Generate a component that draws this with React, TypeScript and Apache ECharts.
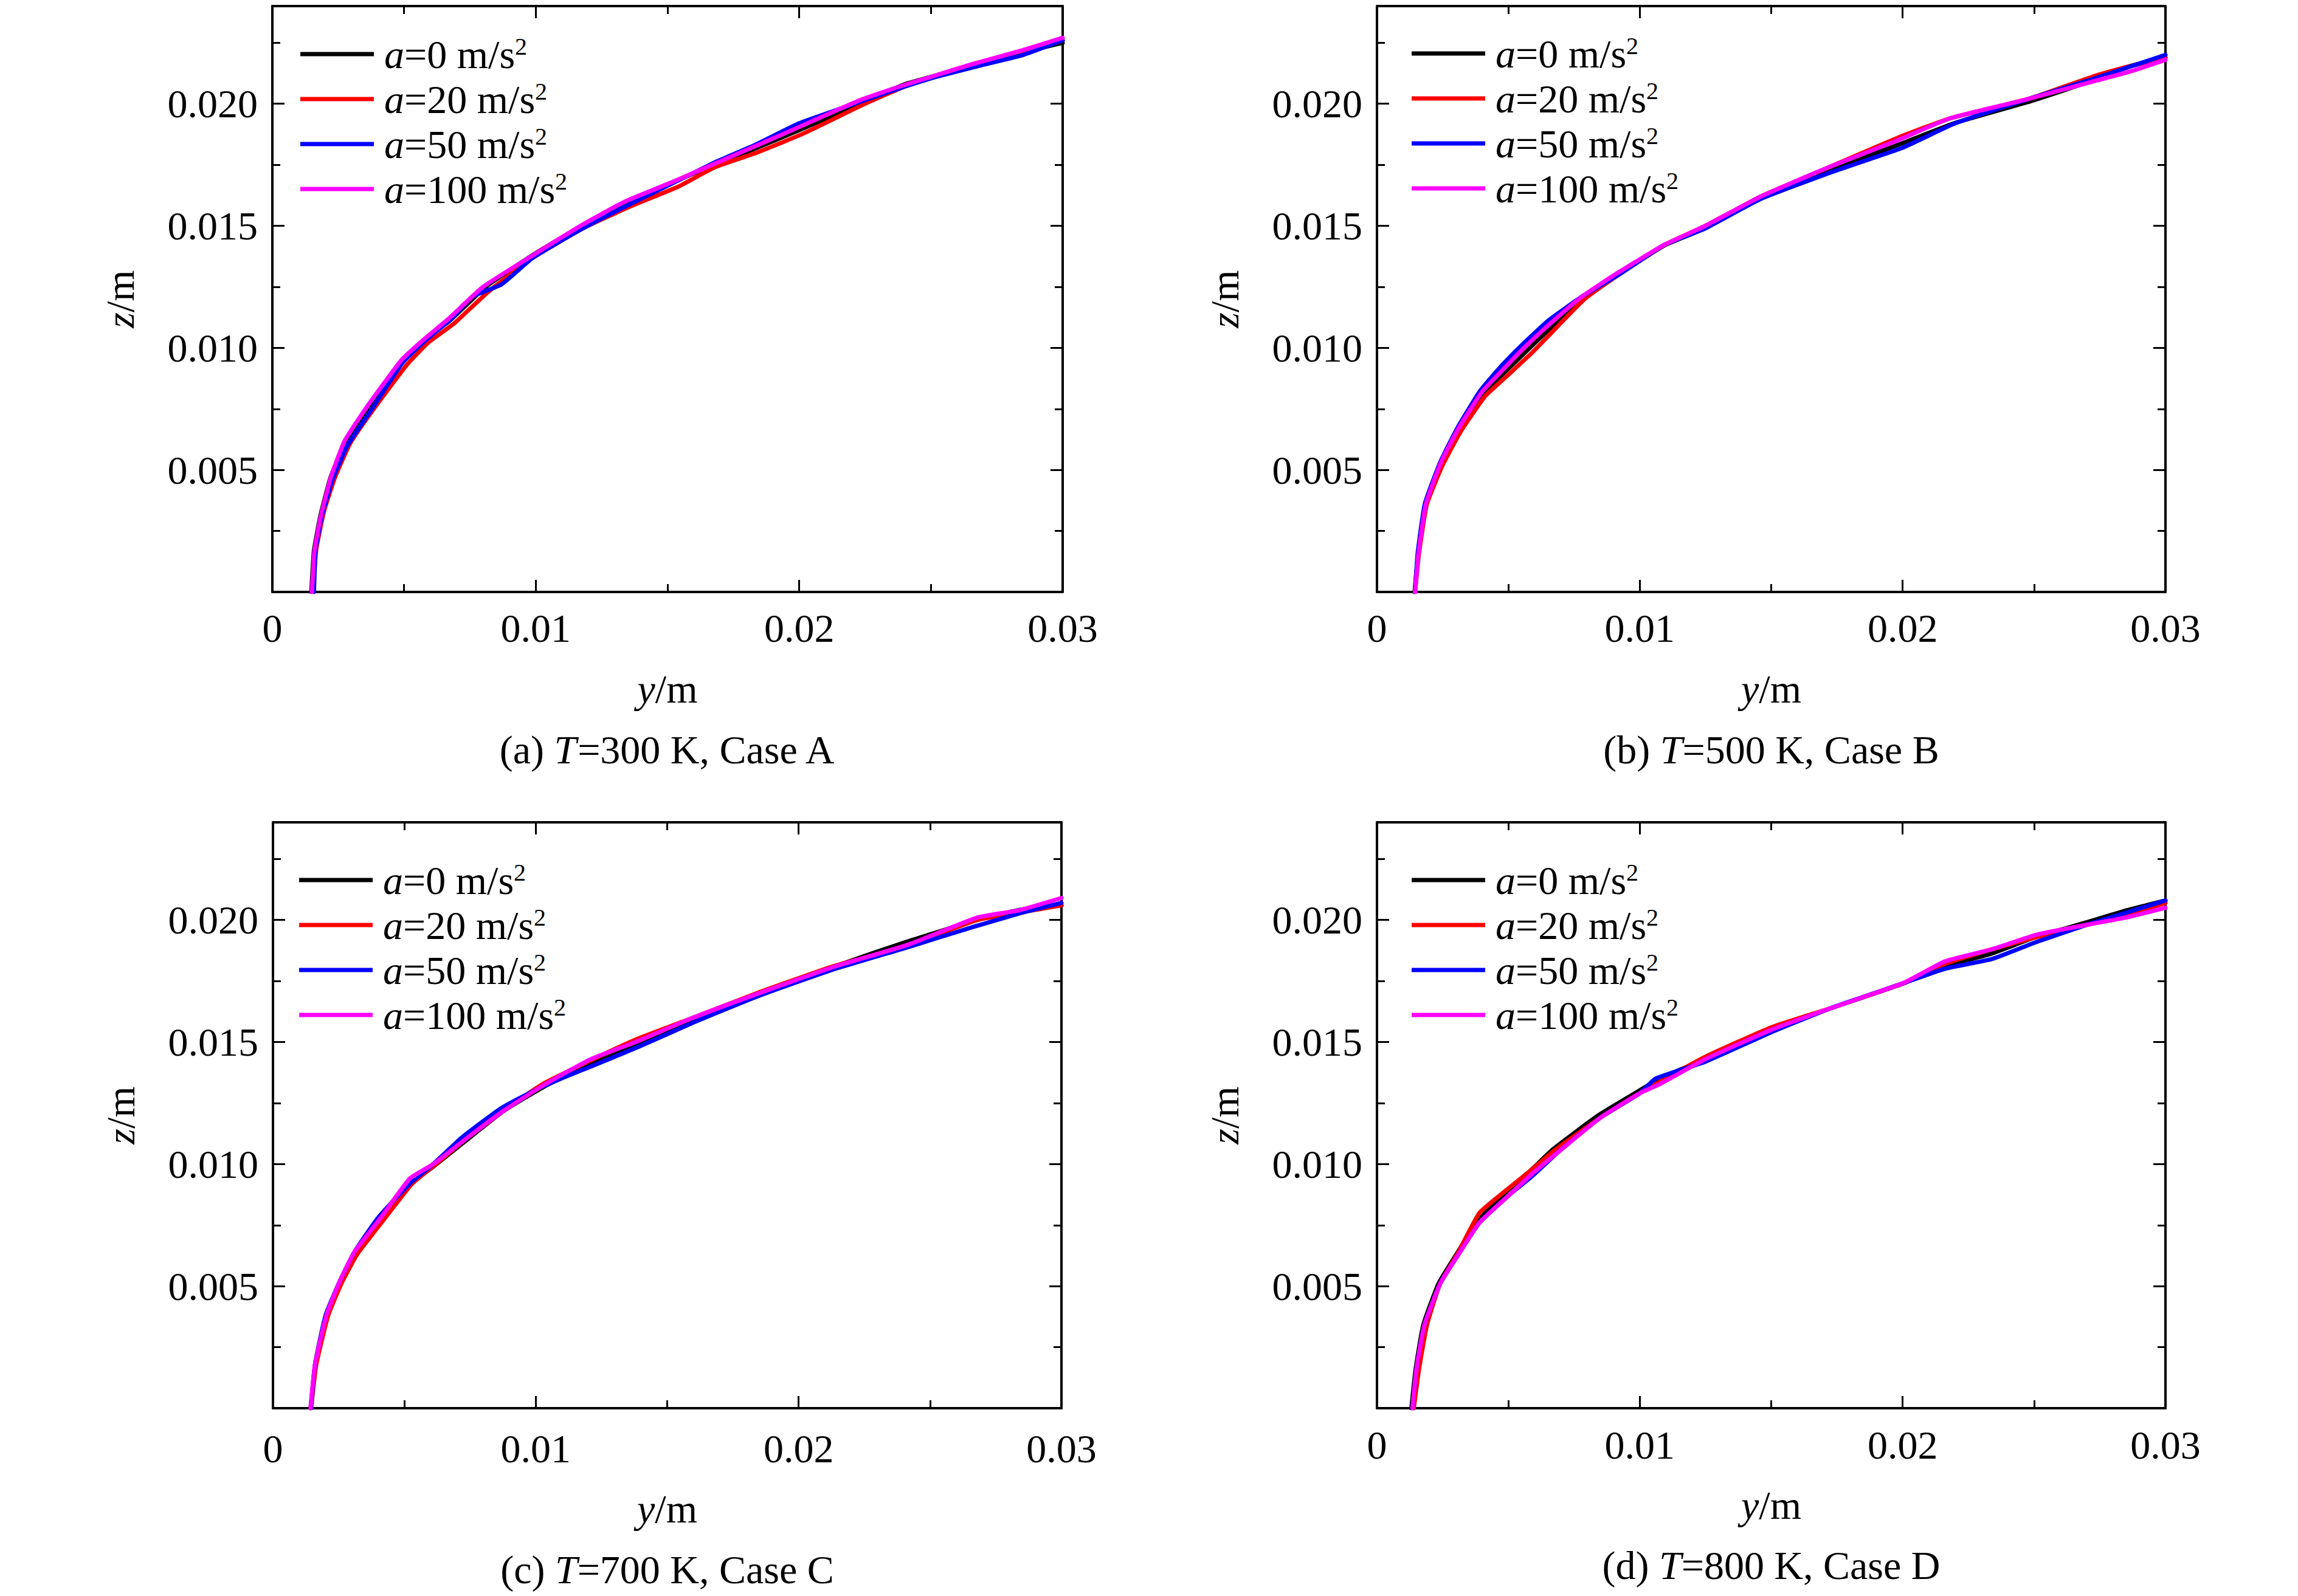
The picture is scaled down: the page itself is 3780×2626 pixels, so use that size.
import React, { useEffect, useRef } from 'react';
import * as echarts from 'echarts';

const FONT = '"Liberation Serif", "Times New Roman", serif';

// ---- data: [y (m), z (m)] pairs ----
const ACCEL = ['0', '20', '50', '100'];
const COLORS = ['#000000', '#ff0000', '#0000ff', '#ff00ff'];
const LETTERS = ['a', 'b', 'c', 'd'];
const TEMPS = [300, 500, 700, 800];
const CASES = ['A', 'B', 'C', 'D'];
const X_LABELS = [0, 0.01, 0.02, 0.03];
const Y_LABELS = [0.005, 0.01, 0.015, 0.02];

const A_0 = [[0.00148,0],[0.00158,0.0017],[0.00182,0.0031],[0.00221,0.0047],[0.00277,0.0061],[0.00366,0.0075],[0.00494,0.0095],[0.00573,0.0103],[0.00672,0.0111],[0.0081,0.0125],[0.00988,0.0138],[0.01176,0.015],[0.01344,0.016],[0.01522,0.0168],[0.0168,0.0175],[0.01818,0.0181],[0.01996,0.0189],[0.02253,0.0201],[0.02401,0.0208],[0.025,0.0211],[0.02688,0.0217],[0.02846,0.0221],[0.03,0.0225]];
const A_20 = [[0.00155,0],[0.00166,0.0017],[0.00196,0.0033],[0.00238,0.0047],[0.00296,0.0061],[0.00385,0.0075],[0.0051,0.0093],[0.0059,0.0102],[0.0069,0.011],[0.0082,0.0123],[0.0099,0.0137],[0.0118,0.0149],[0.0136,0.0158],[0.0154,0.0166],[0.0168,0.0174],[0.0184,0.018],[0.0202,0.0188],[0.0225,0.02],[0.024,0.0207],[0.0251,0.0211],[0.0269,0.0217],[0.0285,0.0221],[0.03,0.0226]];
const A_50 = [[0.00158,0],[0.00164,0.0017],[0.00188,0.0031],[0.00228,0.0046],[0.00285,0.006],[0.00372,0.0074],[0.00495,0.0094],[0.0058,0.0103],[0.0068,0.0112],[0.0076,0.0121],[0.0087,0.0126],[0.0099,0.0137],[0.0118,0.0149],[0.0136,0.0159],[0.0153,0.0168],[0.0168,0.0176],[0.0183,0.0183],[0.02,0.0192],[0.0213,0.0197],[0.024,0.0207],[0.0252,0.0211],[0.027,0.0216],[0.0285,0.022],[0.03,0.0226]];
const A_100 = [[0.0015,0],[0.0016,0.0017],[0.00184,0.0031],[0.00222,0.0047],[0.00275,0.0062],[0.0036,0.0076],[0.0049,0.0095],[0.0057,0.0103],[0.0067,0.0112],[0.008,0.0125],[0.0099,0.0138],[0.0117,0.015],[0.0134,0.016],[0.0152,0.0168],[0.0167,0.0175],[0.0182,0.0182],[0.0199,0.019],[0.0222,0.0201],[0.0238,0.0207],[0.025,0.0211],[0.0265,0.0216],[0.0285,0.0222],[0.03,0.0227]];

const B_0 = [[0.00143,0],[0.00157,0.0016],[0.00186,0.0036],[0.00244,0.0052],[0.00311,0.0066],[0.00398,0.0081],[0.00476,0.0089],[0.00572,0.0099],[0.00669,0.0109],[0.00785,0.012],[0.0092,0.013],[0.01094,0.0142],[0.01249,0.0149],[0.01461,0.0162],[0.01732,0.0173],[0.02003,0.0184],[0.02196,0.0192],[0.02486,0.0201],[0.02737,0.021],[0.02853,0.0215],[0.03,0.0219]];
const B_20 = [[0.00145,0],[0.0016,0.0016],[0.0019,0.0036],[0.0025,0.0052],[0.0032,0.0066],[0.0041,0.008],[0.0049,0.0088],[0.0059,0.0098],[0.0068,0.0108],[0.0079,0.012],[0.0092,0.013],[0.0109,0.0142],[0.0125,0.015],[0.0146,0.0162],[0.0172,0.0174],[0.0198,0.0186],[0.0218,0.0194],[0.0248,0.0202],[0.0272,0.0211],[0.0285,0.0215],[0.03,0.0219]];
const B_50 = [[0.00145,0],[0.00155,0.0016],[0.00182,0.0036],[0.0024,0.0053],[0.00305,0.0067],[0.0039,0.0082],[0.0046,0.0091],[0.0055,0.0101],[0.0065,0.0111],[0.0078,0.0121],[0.0092,0.013],[0.0109,0.0142],[0.0125,0.0149],[0.0146,0.0161],[0.0173,0.0172],[0.02,0.0182],[0.022,0.0192],[0.0248,0.0202],[0.0272,0.021],[0.0286,0.0215],[0.03,0.022]];
const B_100 = [[0.00145,0],[0.00158,0.0016],[0.00186,0.0036],[0.00243,0.0053],[0.0031,0.0067],[0.004,0.0082],[0.0047,0.009],[0.0056,0.01],[0.0066,0.011],[0.0078,0.0121],[0.0092,0.0131],[0.0109,0.0142],[0.0125,0.015],[0.0146,0.0162],[0.0172,0.0174],[0.0198,0.0185],[0.0218,0.0194],[0.0248,0.0202],[0.0272,0.0209],[0.0286,0.0213],[0.03,0.0218]];

const C_0 = [[0.00143,0],[0.00162,0.0018],[0.00205,0.0038],[0.00253,0.0051],[0.00311,0.0063],[0.00408,0.0077],[0.00524,0.0092],[0.00611,0.0099],[0.00727,0.0109],[0.00881,0.0122],[0.01036,0.0132],[0.0121,0.0141],[0.01384,0.0149],[0.01597,0.0159],[0.01848,0.0169],[0.02138,0.0181],[0.02409,0.0191],[0.02679,0.02],[0.02834,0.0204],[0.03,0.0206]];
const C_20 = [[0.00145,0],[0.00165,0.0018],[0.0021,0.0038],[0.0026,0.0051],[0.0032,0.0063],[0.0042,0.0077],[0.0053,0.0092],[0.0062,0.01],[0.0073,0.011],[0.0088,0.0122],[0.0103,0.0133],[0.012,0.0142],[0.0138,0.0151],[0.016,0.016],[0.0184,0.017],[0.0213,0.0181],[0.024,0.0189],[0.0268,0.02],[0.0284,0.0203],[0.03,0.0206]];
const C_50 = [[0.00145,0],[0.0016,0.0018],[0.002,0.0038],[0.0025,0.0051],[0.0031,0.0064],[0.004,0.0078],[0.0052,0.0092],[0.0061,0.01],[0.0072,0.0111],[0.0087,0.0123],[0.0103,0.0132],[0.0121,0.014],[0.0139,0.0148],[0.016,0.0158],[0.0185,0.0169],[0.0214,0.018],[0.0242,0.0189],[0.0266,0.0197],[0.0285,0.0203],[0.03,0.0207]];
const C_100 = [[0.00143,0],[0.0016,0.0018],[0.00203,0.0038],[0.0025,0.0051],[0.0031,0.0064],[0.0041,0.0078],[0.0052,0.0094],[0.0061,0.01],[0.0073,0.011],[0.0088,0.0122],[0.0104,0.0133],[0.0121,0.0143],[0.0138,0.015],[0.016,0.016],[0.0185,0.017],[0.0214,0.0181],[0.0242,0.019],[0.0268,0.0201],[0.0284,0.0204],[0.03,0.0209]];

const D_0 = [[0.00131,0],[0.00147,0.0016],[0.00176,0.0034],[0.00234,0.0051],[0.00302,0.0063],[0.00379,0.0076],[0.00495,0.0089],[0.00572,0.0096],[0.00669,0.0106],[0.00843,0.012],[0.00997,0.013],[0.01075,0.0135],[0.01249,0.0143],[0.015,0.0155],[0.01732,0.0164],[0.02003,0.0174],[0.02157,0.0181],[0.02332,0.0186],[0.02506,0.0193],[0.02699,0.0199],[0.02853,0.0204],[0.03,0.0208]];
const D_20 = [[0.0014,0],[0.0016,0.0016],[0.0019,0.0034],[0.0024,0.0051],[0.0031,0.0064],[0.0039,0.008],[0.005,0.009],[0.0058,0.0097],[0.0068,0.0106],[0.0085,0.0119],[0.01,0.0129],[0.0108,0.0134],[0.0125,0.0144],[0.015,0.0156],[0.0173,0.0164],[0.02,0.0174],[0.0216,0.0182],[0.0234,0.0188],[0.0251,0.0193],[0.027,0.0198],[0.0285,0.0202],[0.03,0.0207]];
const D_50 = [[0.00135,0],[0.0015,0.0016],[0.0018,0.0034],[0.0024,0.0051],[0.0031,0.0063],[0.0039,0.0076],[0.0051,0.0088],[0.0059,0.0095],[0.0069,0.0105],[0.0085,0.0119],[0.01,0.0129],[0.0106,0.0135],[0.0125,0.0142],[0.015,0.0154],[0.0173,0.0164],[0.02,0.0174],[0.0216,0.018],[0.0234,0.0184],[0.0251,0.0191],[0.027,0.0198],[0.0285,0.0203],[0.03,0.0208]];
const D_100 = [[0.00135,0],[0.0015,0.0016],[0.0018,0.0034],[0.0024,0.0051],[0.0031,0.0063],[0.0039,0.0076],[0.0051,0.0088],[0.0059,0.0096],[0.0069,0.0105],[0.0085,0.0119],[0.01,0.0129],[0.0108,0.0133],[0.0125,0.0143],[0.015,0.0155],[0.0173,0.0164],[0.02,0.0174],[0.0216,0.0183],[0.0234,0.0188],[0.0251,0.0194],[0.027,0.0198],[0.0285,0.0201],[0.03,0.0205]];

const PANEL_DATA = [
  [A_0, A_20, A_50, A_100],
  [B_0, B_20, B_50, B_100],
  [C_0, C_20, C_50, C_100],
  [D_0, D_20, D_50, D_100],
];

// ---- layout (pixels) ----
const LAYOUT = [
  { left: 448, top: 10, width: 1300, height: 964, legendLeft: 494, legendTop: 56, labelMargin: 26, xNameGap: 126, capY: 1233 },
  { left: 2265, top: 10, width: 1297, height: 964, legendLeft: 2322, legendTop: 55, labelMargin: 26, xNameGap: 126, capY: 1233 },
  { left: 449, top: 1353, width: 1297, height: 964, legendLeft: 492, legendTop: 1415, labelMargin: 33, xNameGap: 132, capY: 2582 },
  { left: 2265, top: 1353, width: 1297, height: 964, legendLeft: 2322, legendTop: 1415, labelMargin: 27, xNameGap: 126, capY: 2575 },
];

const NAMES = ACCEL.map((a) => `a=${a} m/s²`);

const BLACK = '#000';
const FS = 66;
const italicRich = { i: { fontStyle: 'italic', fontSize: FS, fontFamily: FONT, color: BLACK } };

function near(v: number, list: number[]) {
  return list.some((l) => Math.abs(l - v) < 1e-9);
}

function buildOption() {
  const grid: any[] = [];
  const xAxis: any[] = [];
  const yAxis: any[] = [];
  const series: any[] = [];
  const legend: any[] = [];
  const graphic: any[] = [];

  const axisLine = () => ({ show: true, onZero: false, lineStyle: { color: BLACK, width: 4 } });
  const hiddenLine = () => ({ show: false, onZero: false });
  const majorTick = () => ({ show: true, inside: true, length: 20, lineStyle: { color: BLACK, width: 3 } });
  const minorTickLine = () => ({ show: true, inside: true, length: 13, lineStyle: { color: BLACK, width: 3 } });

  LAYOUT.forEach((l, p) => {
    grid.push({ left: l.left, top: l.top, width: l.width, height: l.height, containLabel: false, outerBoundsMode: 'none', show: false });

    const xBase = () => ({
      type: 'value', gridIndex: p, min: 0, max: 0.03, interval: 0.01,
      axisLine: axisLine(), axisTick: majorTick(),
      minorTick: { show: true, splitNumber: 2, length: 13, lineStyle: { color: BLACK, width: 3 } },
      splitLine: { show: false }, minorSplitLine: { show: false },
    });
    xAxis.push({
      ...xBase(), position: 'bottom',
      axisLabel: {
        show: true, margin: l.labelMargin, fontSize: FS, fontFamily: FONT, color: BLACK,
        formatter: (v: number) => (near(v, X_LABELS) ? (v === 0 ? '0' : v.toFixed(2)) : ''),
      },
      name: '{i|y}/m', nameLocation: 'middle', nameGap: l.xNameGap,
      nameTextStyle: { fontSize: FS, fontFamily: FONT, color: BLACK, rich: italicRich },
    });
    xAxis.push({ ...xBase(), position: 'top', axisLabel: { show: false } });

    const yBase = () => ({
      type: 'value', gridIndex: p, min: 0, max: 0.024, offset: 0,
      splitLine: { show: false }, minorSplitLine: { show: false },
    });
    yAxis.push({
      ...yBase(), position: 'left', interval: 0.005, axisLine: axisLine(), axisTick: majorTick(),
      axisLabel: {
        show: true, margin: 24, fontSize: FS, fontFamily: FONT, color: BLACK,
        formatter: (v: number) => (near(v, Y_LABELS) ? v.toFixed(3) : ''),
      },
      name: '{i|z}/m', nameLocation: 'middle', nameGap: 218,
      nameTextStyle: { fontSize: FS, fontFamily: FONT, color: BLACK, rich: italicRich },
    });
    yAxis.push({ ...yBase(), position: 'left', interval: 0.0025, axisLine: hiddenLine(), axisTick: minorTickLine(), axisLabel: { show: false } });
    yAxis.push({ ...yBase(), position: 'right', interval: 0.005, axisLine: axisLine(), axisTick: majorTick(), axisLabel: { show: false } });
    yAxis.push({ ...yBase(), position: 'right', interval: 0.0025, axisLine: hiddenLine(), axisTick: minorTickLine(), axisLabel: { show: false } });

    PANEL_DATA[p].forEach((data, s) => {
      series.push({
        type: 'line', name: NAMES[s], xAxisIndex: 2 * p, yAxisIndex: 4 * p,
        data, symbol: 'none', showSymbol: false, smooth: 0.15, clip: true,
        lineStyle: { width: 7, color: COLORS[s], cap: 'round', join: 'round' },
        itemStyle: { color: COLORS[s] }, z: 2 + s,
      });
    });

    legend.push({
      orient: 'vertical', left: l.legendLeft, top: l.legendTop, padding: 0,
      itemGap: 8, itemWidth: 121, itemHeight: 7, icon: 'rect', data: NAMES, selectedMode: false,
      formatter: (name: string) => name.replace(/^a/, '{i|a}').replace('²', '{sup|2}'),
      textStyle: {
        fontSize: FS, fontFamily: FONT, color: BLACK, padding: [0, 0, 0, 12],
        rich: {
          i: { fontStyle: 'italic', fontSize: FS, fontFamily: FONT, color: BLACK },
          sup: { fontSize: 40, fontFamily: FONT, color: BLACK, verticalAlign: 'top', padding: [0, 0, 22, 0] },
        },
      },
    });

    graphic.push({
      type: 'text', x: l.left + l.width / 2, y: l.capY, silent: true,
      style: {
        text: `(${LETTERS[p]}) {i|T}=${TEMPS[p]} K, Case ${CASES[p]}`,
        fontSize: FS, fontFamily: FONT, fill: BLACK, align: 'center', verticalAlign: 'middle',
        rich: { i: { fontStyle: 'italic', fontSize: FS, fontFamily: FONT, fill: BLACK } },
      },
    });
  });

  return { animation: false, backgroundColor: '#ffffff', grid, xAxis, yAxis, series, legend, graphic };
}

export default function App() {
  const ref = useRef<HTMLDivElement>(null);
  useEffect(() => {
    if (!ref.current) return;
    const chart = echarts.init(ref.current, null, { renderer: 'svg' });
    chart.setOption(buildOption() as any);
    return () => chart.dispose();
  }, []);
  return (
    <div
      ref={ref}
      style={{ position: 'absolute', left: 0, top: 0, width: 3780, height: 2626, background: '#fff' }}
    />
  );
}
